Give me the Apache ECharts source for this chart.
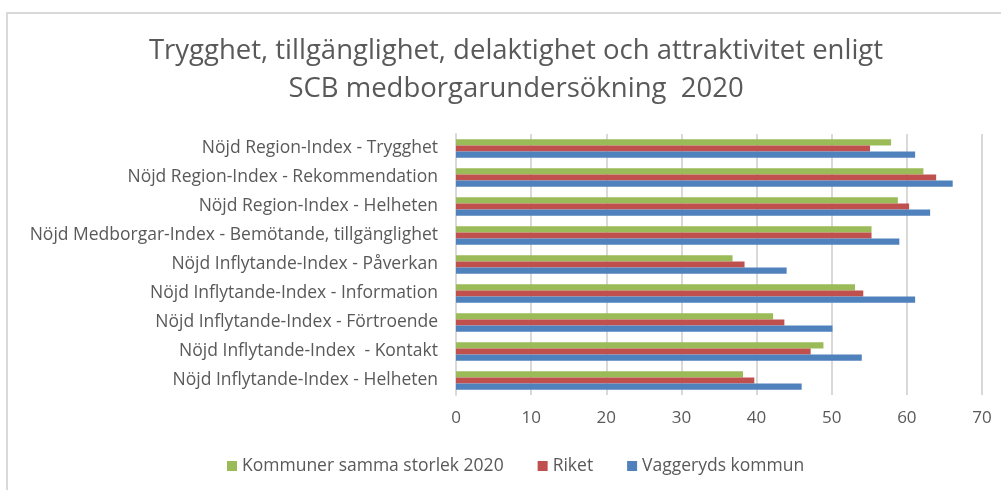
<!DOCTYPE html>
<html>
<head>
<meta charset="utf-8">
<script src="https://cdn.jsdelivr.net/npm/echarts@6/dist/echarts.min.js"></script>
<style>
  html, body { margin: 0; padding: 0; background: #fff; }
  #chart { width: 1001px; height: 490px; }
</style>
</head>
<body>
<div id="chart"></div>
<script>
const categories = [
  'Nöjd Region-Index - Trygghet',
  'Nöjd Region-Index - Rekommendation',
  'Nöjd Region-Index - Helheten',
  'Nöjd Medborgar-Index - Bemötande, tillgänglighet',
  'Nöjd Inflytande-Index - Påverkan',
  'Nöjd Inflytande-Index - Information',
  'Nöjd Inflytande-Index - Förtroende',
  'Nöjd Inflytande-Index  - Kontakt',
  'Nöjd Inflytande-Index - Helheten'
]
const kommunerSamma = [57.9, 62.2, 58.8, 55.3, 36.8, 53.1, 42.2, 48.9, 38.2]
const riket = [55.1, 63.9, 60.3, 55.3, 38.4, 54.2, 43.7, 47.2, 39.7]
const vaggeryd = [61.1, 66.1, 63.1, 59.0, 44.0, 61.1, 50.1, 54.0, 46.0]

const fontFam = '"Open Sans", "Noto Sans", sans-serif'
const textColor = '#595959'

let chart = echarts.init(document.getElementById('chart'))
chart.setOption({
  animation: false,
  textStyle: { fontFamily: fontFam },
  title: {
    text: 'Trygghet, tillgänglighet, delaktighet och attraktivitet enligt\nSCB medborgarundersökning  2020',
    left: 511,
    top: 27,
    textAlign: 'center',
    textStyle: {
      fontFamily: fontFam,
      fontSize: 27.5,
      fontWeight: 'normal',
      color: textColor,
      lineHeight: 38
    }
  },
  graphic: [
    {
      type: 'rect',
      shape: { x: 7, y: 13, width: 1010, height: 500 },
      style: { fill: 'none', stroke: '#d9d9d9', lineWidth: 2 },
      silent: true
    }
  ],
  legend: {
    bottom: 10,
    left: 222,
    itemWidth: 10,
    itemHeight: 10,
    itemGap: 34,
    icon: 'rect',
    textStyle: { fontFamily: fontFam, fontSize: 17.5, color: textColor },
    data: ['Kommuner samma storlek 2020', 'Riket', 'Vaggeryds kommun']
  },
  grid: {
    left: 456,
    right: 19,
    top: 134,
    bottom: 95
  },
  xAxis: {
    type: 'value',
    min: 0,
    max: 70,
    interval: 10,
    axisLine: { show: false },
    axisTick: { show: false },
    splitLine: { lineStyle: { color: '#d9d9d9', width: 2 } },
    axisLabel: { color: textColor, fontSize: 17, fontFamily: fontFam, margin: 15 }
  },
  yAxis: {
    type: 'category',
    inverse: true,
    data: categories,
    axisLine: { show: true, lineStyle: { color: '#d9d9d9', width: 2 } },
    axisTick: { show: false },
    axisLabel: { color: textColor, fontSize: 17.5, fontFamily: fontFam, margin: 18 }
  },
  series: [
    {
      name: 'Kommuner samma storlek 2020',
      type: 'bar',
      data: kommunerSamma,
      barGap: '0%',
      barCategoryGap: '36%',
      itemStyle: { color: '#9bbb59' }
    },
    {
      name: 'Riket',
      type: 'bar',
      data: riket,
      barGap: '0%',
      barCategoryGap: '36%',
      itemStyle: { color: '#c0504d' }
    },
    {
      name: 'Vaggeryds kommun',
      type: 'bar',
      data: vaggeryd,
      barGap: '0%',
      barCategoryGap: '36%',
      itemStyle: { color: '#4f81bd' }
    }
  ]
})
</script>
</body>
</html>
